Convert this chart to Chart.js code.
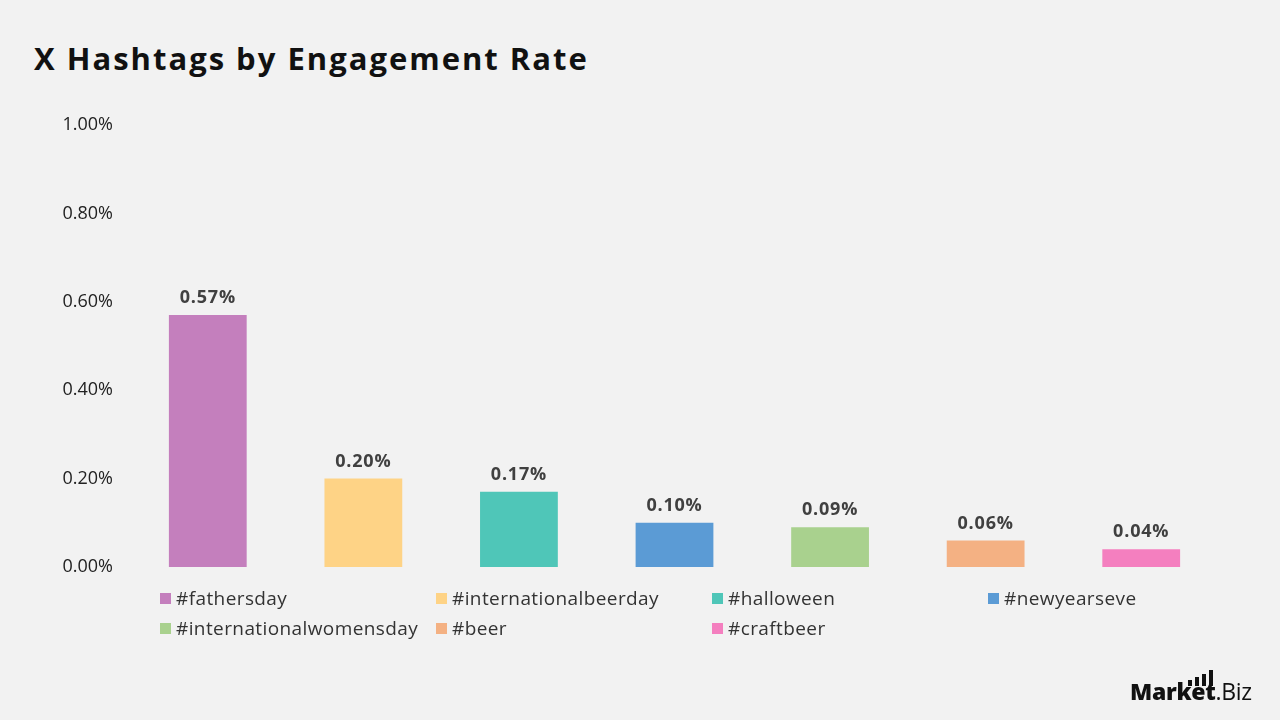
<!DOCTYPE html>
<html>
<head>
<meta charset="utf-8">
<script src="https://cdn.jsdelivr.net/npm/chart.js@4.4.0/dist/chart.umd.min.js"></script>
<style>
  body { margin: 0; background: #f2f2f2; font-family: 'Open Sans', sans-serif; }
  #wrap { position: relative; width: 1280px; height: 720px; overflow: hidden; }
  #title { position: absolute; left: 34px; top: 37px; font-size: 31px; font-weight: 700; color: #111; letter-spacing: 2px; }
  #chartBox { position: absolute; left: 0; top: 0; width: 1280px; height: 720px; }
  #legend { position: absolute; left: 160px; top: 587px; display: grid; grid-template-columns: repeat(4, 276px); row-gap: 8px; }
  .item { display: flex; align-items: center; font-size: 19px; letter-spacing: 0.4px; color: #333; height: 22px; white-space: nowrap; }
  .box { width: 11px; height: 11px; margin-right: 5px; }
  #logo { position: absolute; left: 1130px; top: 675px; font-size: 23px; color: #111; letter-spacing: -0.3px; }
  #logo b { font-weight: 800; }
  .bars { position: absolute; left: 58px; top: -5px; height: 16px; display: flex; align-items: flex-end; gap: 3px; }
  .bars span { display: block; width: 4px; background: #111; }
</style>
</head>
<body>
<div id="wrap">
  <div id="title">X Hashtags by Engagement Rate</div>
  <div id="chartBox"><canvas id="chart"></canvas></div>
  <div id="legend"></div>
  <div id="logo"><b>Market</b>.Biz
    <div class="bars"><span style="height:6px"></span><span style="height:9px"></span><span style="height:12px"></span><span style="height:16px"></span></div>
  </div>
</div>
<script>
const hashtags = ['#fathersday', '#internationalbeerday', '#halloween', '#newyearseve', '#internationalwomensday', '#beer', '#craftbeer'];
const engagement = [0.57, 0.20, 0.17, 0.10, 0.09, 0.06, 0.04];
const barColors = ['#c47fbd', '#fed386', '#4fc6b8', '#5b9bd5', '#a9d18e', '#f4b183', '#f47fbf'];
const yTicks = [0, 0.2, 0.4, 0.6, 0.8, 1.0];

// legend in html so the columns line up like the original
const legendEl = document.getElementById('legend');
hashtags.forEach((h, i) => {
  const d = document.createElement('div');
  d.className = 'item';
  d.innerHTML = '<span class="box" style="background:' + barColors[i] + '"></span>' + h;
  legendEl.appendChild(d);
});

// value labels above bars
const valueLabels = {
  id: 'valueLabels',
  afterDatasetsDraw(chart) {
    const ctx = chart.ctx;
    const meta = chart.getDatasetMeta(0);
    ctx.save();
    ctx.font = 'bold 18px "Open Sans"';
    ctx.letterSpacing = '0.8px';
    ctx.fillStyle = '#404040';
    ctx.textAlign = 'center';
    ctx.textBaseline = 'middle';
    meta.data.forEach((bar, i) => {
      ctx.fillText(engagement[i].toFixed(2) + '%', bar.x, bar.y - 17);
    });
    ctx.restore();
  }
};

new Chart(document.getElementById('chart'), {
  type: 'bar',
  data: {
    labels: hashtags,
    datasets: [{
      data: engagement,
      backgroundColor: barColors,
      barPercentage: 0.5,
      categoryPercentage: 1.0
    }]
  },
  options: {
    responsive: true,
    maintainAspectRatio: false,
    animation: false,
    layout: { padding: { top: 125, bottom: 153, left: 0, right: 61 } },
    plugins: { legend: { display: false }, tooltip: { enabled: false } },
    scales: {
      x: { display: false },
      y: {
        min: 0,
        max: 1,
        afterFit(axis) { axis.width = 130; },
        afterBuildTicks(axis) { axis.ticks = yTicks.map(v => ({ value: v })); },
        grid: { display: false },
        border: { display: false },
        ticks: {
          padding: 9,
          color: '#222',
          font: { family: 'Open Sans', size: 18 },
          callback: v => v.toFixed(2) + '%'
        }
      }
    }
  },
  plugins: [valueLabels]
});
</script>
</body>
</html>
